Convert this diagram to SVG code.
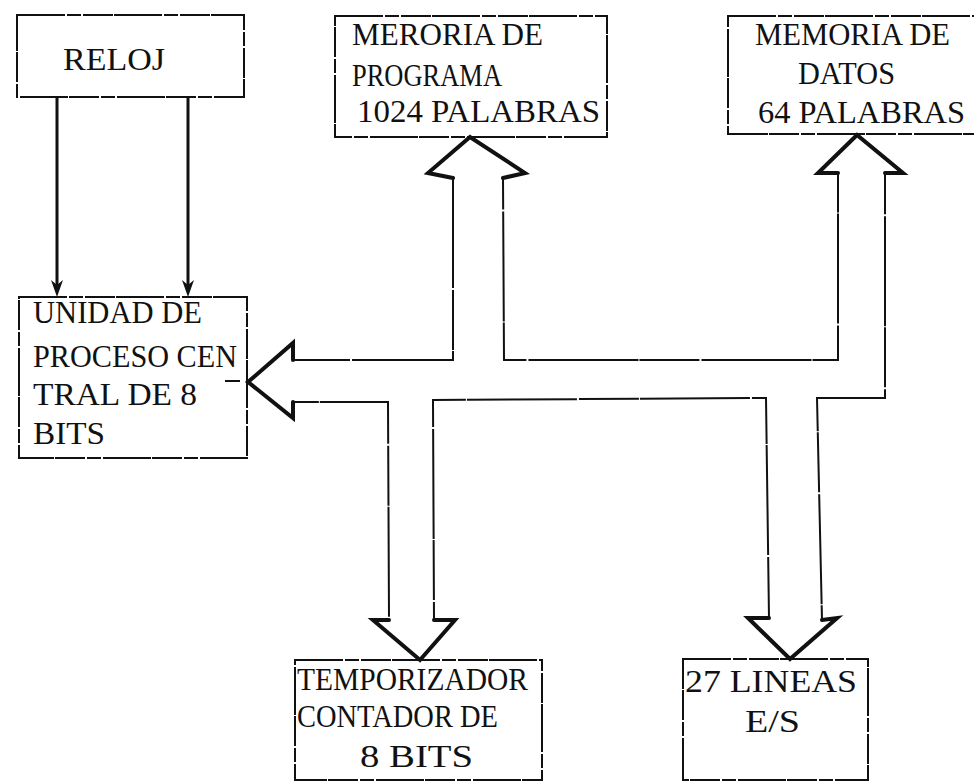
<svg xmlns="http://www.w3.org/2000/svg" width="974" height="781" viewBox="0 0 974 781">
  <style>
    .box { fill: none; stroke: #111; stroke-width: 2; stroke-dasharray: 48 2 14 2 30 1; }
    .lbl { font-family: "Liberation Serif", "DejaVu Serif", serif; font-size: 32px; fill: #111; }
    .bus { fill: none; stroke: #111; stroke-width: 2; stroke-linejoin: miter; stroke-dasharray: 110 2 60 1; }
    .head { fill: none; stroke: #111; stroke-width: 4; stroke-linejoin: miter; stroke-linecap: round; }
    .clk { stroke: #111; stroke-width: 3; fill: none; }
    .clk-tip { fill: #111; }
  </style>
  <rect width="974" height="781" fill="#fff"/>

  <!-- clock -->
  <g id="reloj">
    <rect class="box" x="17" y="15" width="227" height="82"/>
    <text class="lbl" x="63" y="70" font-size="30" textLength="102" lengthAdjust="spacingAndGlyphs">RELOJ</text>
  </g>

  <!-- program memory -->
  <g id="mem-programa">
    <rect class="box" x="335" y="16" width="272" height="121"/>
    <text class="lbl" x="352" y="45" textLength="191" lengthAdjust="spacingAndGlyphs">MERORIA DE</text>
    <text class="lbl" x="352" y="86" textLength="150" lengthAdjust="spacingAndGlyphs">PROGRAMA</text>
    <text class="lbl" x="357" y="122" textLength="243" lengthAdjust="spacingAndGlyphs">1024 PALABRAS</text>
  </g>

  <!-- data memory -->
  <g id="mem-datos">
    <rect class="box" x="728" y="16" width="252" height="118"/>
    <text class="lbl" x="755" y="45" textLength="195" lengthAdjust="spacingAndGlyphs">MEMORIA DE</text>
    <text class="lbl" x="798" y="84" textLength="97" lengthAdjust="spacingAndGlyphs">DATOS</text>
    <text class="lbl" x="758" y="123" textLength="207" lengthAdjust="spacingAndGlyphs">64 PALABRAS</text>
  </g>

  <!-- central processing unit -->
  <g id="cpu">
    <rect class="box" x="19" y="297" width="228" height="161"/>
    <text class="lbl" x="33" y="323" textLength="169" lengthAdjust="spacingAndGlyphs">UNIDAD DE</text>
    <text class="lbl" x="33" y="367" textLength="204" lengthAdjust="spacingAndGlyphs">PROCESO CEN</text>
    <line x1="225" y1="381" x2="240" y2="381" stroke="#111" stroke-width="2"/>
    <text class="lbl" x="33" y="405" textLength="164" lengthAdjust="spacingAndGlyphs">TRAL DE 8</text>
    <text class="lbl" x="33" y="444" textLength="72" lengthAdjust="spacingAndGlyphs">BITS</text>
  </g>

  <!-- timer / counter -->
  <g id="temporizador">
    <rect class="box" x="295" y="660" width="247" height="120"/>
    <text class="lbl" x="297" y="690" textLength="231" lengthAdjust="spacingAndGlyphs">TEMPORIZADOR</text>
    <text class="lbl" x="297" y="727" textLength="201" lengthAdjust="spacingAndGlyphs">CONTADOR DE</text>
    <text class="lbl" x="360" y="767" textLength="113" lengthAdjust="spacingAndGlyphs">8 BITS</text>
  </g>

  <!-- I/O lines -->
  <g id="lineas-es">
    <rect class="box" x="683" y="659" width="185" height="121"/>
    <text class="lbl" x="685" y="692" textLength="172" lengthAdjust="spacingAndGlyphs">27 LINEAS</text>
    <text class="lbl" x="745" y="732" textLength="55" lengthAdjust="spacingAndGlyphs">E/S</text>
  </g>

  <!-- connectors -->
  <g id="connectors">
    <!-- clock lines into the CPU -->
    <line class="clk" x1="57" y1="97" x2="57" y2="286"/>
    <polygon class="clk-tip" points="51,280 57,285 63,280 57,297"/>
    <line class="clk" x1="188" y1="97" x2="188" y2="286"/>
    <polygon class="clk-tip" points="182,280 188,285 194,280 188,297"/>

    <!-- shared bus outline -->
    <path class="bus" d="M453,178 L453,360 L293,360 L293,343 L248,382 L293,418 L293,402 L388,402 L389,620 L373,620 L420,660 L455,620 L434,620 L433,400 L766,398 L769,618 L748,618 L790,659 L837,618 L822,620 L817,398 L885,398 L885,173 L903,173 L857,135 L818,173 L838,173 L838,360 L504,360 L503,178 L525,173 L470,137 L428,173 Z"/>

    <!-- bus arrow heads -->
    <polyline class="head" points="453,178 428,173 470,137 525,173 503,178"/>
    <polyline class="head" points="838,173 818,173 857,135 903,173 885,173"/>
    <polyline class="head" points="293,360 293,343 248,382 293,418 293,402"/>
    <polyline class="head" points="389,620 373,620 420,660 455,620 434,620"/>
    <polyline class="head" points="769,618 748,618 790,659 837,618 822,620"/>
  </g>
</svg>
